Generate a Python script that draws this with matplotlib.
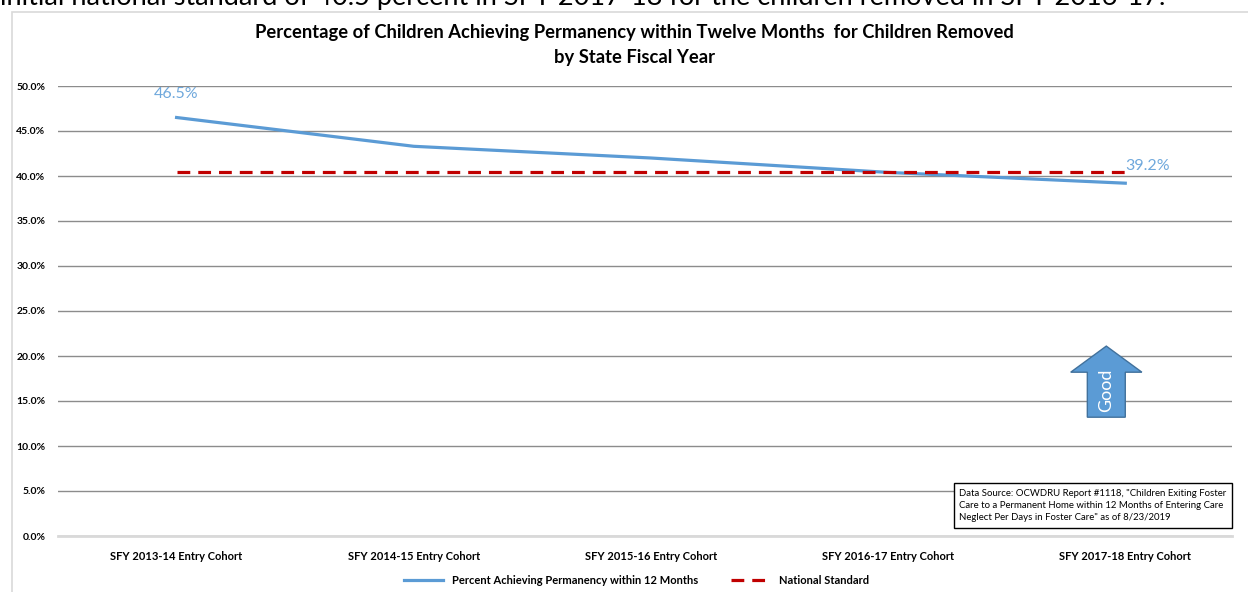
import matplotlib.pyplot as plt
from matplotlib.patches import FancyArrow, Rectangle
from matplotlib.ticker import FuncFormatter

plt.rcParams['font.family'] = ['Lato', 'DejaVu Sans']

# data
cohorts = ["SFY 2013-14 Entry Cohort", "SFY 2014-15 Entry Cohort", "SFY 2015-16 Entry Cohort",
           "SFY 2016-17 Entry Cohort", "SFY 2017-18 Entry Cohort"]
pct_permanency = [0.465, 0.433, 0.420, 0.404, 0.392]
national_std = [0.405, 0.405, 0.405, 0.405, 0.405]

blue = "#5b9bd5"
red = "#c00000"

fig = plt.figure(figsize=(12.48, 5.92), dpi=100)

# cut-off sentence from the page above the chart
fig.text(0.0, 1 - 5 / 592, "initial national standard of 40.5 percent in SFY 2017-18 for the children removed in SFY 2016-17.",
         ha="left", va="baseline", fontsize=19.5, color="black")

# chart frame
fig.patches.append(Rectangle((12 / 1248, -0.1), 1.2, 1 - 12 / 592 + 0.1, transform=fig.transFigure,
                             fill=False, edgecolor="#d9d9d9", linewidth=1.2))

ax = fig.add_axes([58 / 1248, 56 / 592, (1232 - 58) / 1248, 450 / 592])
x = range(len(cohorts))
ax.plot(x, pct_permanency, color=blue, linewidth=2.3, label="Percent Achieving Permanency within 12 Months")
ax.plot(x, national_std, color=red, linewidth=2.3, linestyle=(0, (4, 2.5)), label="National Standard")

ax.set_xlim(-0.5, 4.45)
ax.set_ylim(0, 0.5)
ax.set_yticks([i * 0.05 for i in range(11)])
ax.yaxis.set_major_formatter(FuncFormatter(lambda v, p: f"{v * 100:.1f}%"))
ax.grid(axis="y", color="#8c8c8c", linewidth=1)
ax.set_axisbelow(True)
for s in ["top", "right", "left"]:
    ax.spines[s].set_visible(False)
ax.spines["bottom"].set_color("#d9d9d9")
ax.spines["bottom"].set_linewidth(2)
ax.set_xticks(list(x))
ax.set_xticklabels(cohorts, fontsize=8, fontweight="bold")
ax.tick_params(axis="both", length=0)
ax.tick_params(axis="x", pad=11)
ax.tick_params(axis="y", labelsize=7.5, pad=9)
for t in ax.get_yticklabels():
    t.set_fontweight("bold")

ax.annotate(f"{pct_permanency[0] * 100:.1f}%", (0, pct_permanency[0]), xytext=(0, 12),
            textcoords="offset points", ha="center", va="bottom", color="#6fa8dc", fontsize=11.5)
ax.annotate(f"{pct_permanency[-1] * 100:.1f}%", (4, pct_permanency[-1]), xytext=(0, 7),
            textcoords="offset points", ha="left", va="bottom", color="#6fa8dc", fontsize=11.5)

# "Good" arrow
ax.add_patch(FancyArrow(3.92, 0.132, 0, 0.079, width=0.16, head_width=0.30, head_length=0.029,
                        length_includes_head=True, facecolor=blue, edgecolor="#41719c", linewidth=1,
                        zorder=5))
ax.text(3.92, 0.162, "Good", rotation=90, ha="center", va="center", color="white", fontsize=13, zorder=6)

# data source box
ax.text(3.30, 0.034, "Data Source: OCWDRU Report #1118, \"Children Exiting Foster\n"
        "Care to a Permanent Home within 12 Months of Entering Care\n"
        "Neglect Per Days in Foster Care\" as of 8/23/2019",
        ha="left", va="center", fontsize=6.9, linespacing=1.45, zorder=6,
        bbox=dict(boxstyle="square,pad=0.6", facecolor="white", edgecolor="black", linewidth=1))

fig.text(634 / 1248, 1 - 24 / 592, "Percentage of Children Achieving Permanency within Twelve Months  for Children Removed\nby State Fiscal Year",
         ha="center", va="top", fontsize=13.2, fontweight="bold", linespacing=1.55)

fig.legend(loc="center", bbox_to_anchor=(0.51, 12 / 592), ncol=2, frameon=False,
           prop={"size": 8, "weight": "bold"}, handlelength=3.5, columnspacing=3)

fig.savefig("out.png", dpi=100)
